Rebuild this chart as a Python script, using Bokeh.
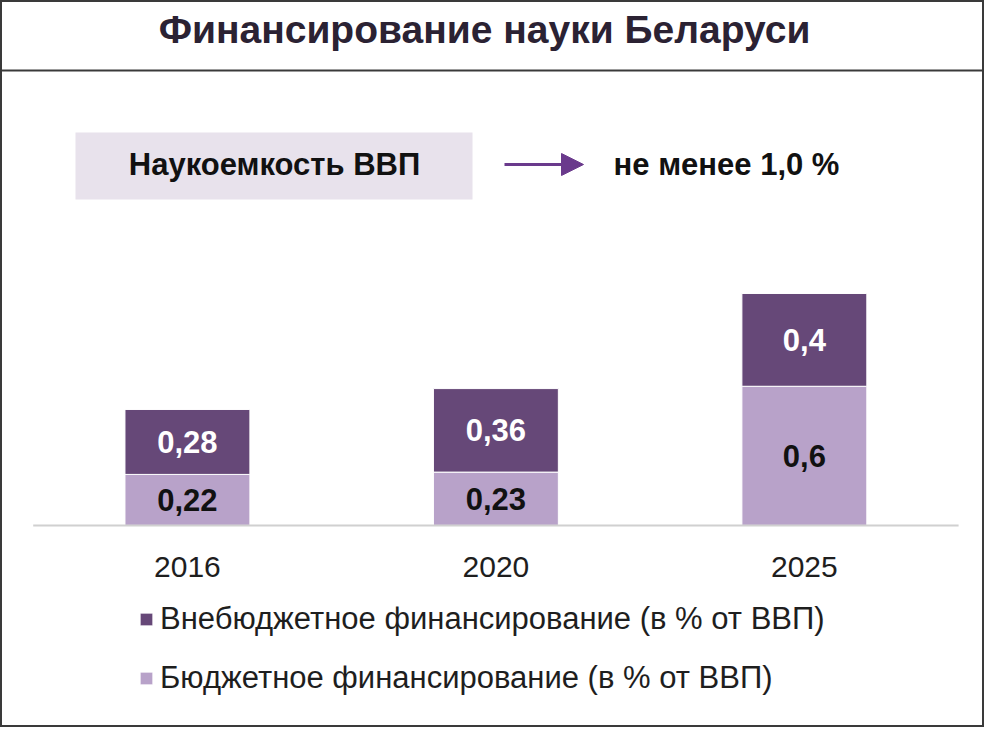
from bokeh.plotting import figure
from bokeh.models import (ColumnDataSource, Range1d, Label, BoxAnnotation, Span,
                          Arrow, NormalHead, Legend, LegendItem)
from bokeh.core.properties import value
from bokeh.embed import file_html
from bokeh.resources import INLINE

# ---- data ----
years = ["2016", "2020", "2025"]
budget = [0.22, 0.23, 0.6]          # Бюджетное финансирование (в % от ВВП)
extra = [0.28, 0.36, 0.4]           # Внебюджетное финансирование (в % от ВВП)
series_names = ["Внебюджетное финансирование (в % от ВВП)",
                "Бюджетное финансирование (в % от ВВП)"]
title_text = "Финансирование науки Беларуси"
header_left = "Наукоемкость ВВП"
header_right = "не менее 1,0 %"

FONT = "Liberation Sans"
DARK = "#664878"
LIGHT = "#b8a2c9"

idx = list(range(len(years)))
fmt = lambda v: f"{v:g}".replace(".", ",")

src = ColumnDataSource(dict(
    x=idx, years=years, budget=budget, extra=extra,
    zero=[0] * len(years),
    b_mid=[b / 2 for b in budget],
    e_mid=[b + e / 2 for b, e in zip(budget, extra)],
    b_lab=[fmt(b) for b in budget],
    e_lab=[fmt(e) for e in extra],
))

W, H = 984, 727
p = figure(width=W, height=H, output_backend="svg", toolbar_location=None,
           x_range=Range1d(-0.606, 2.584), y_range=Range1d(-0.871, 2.263),
           x_axis_type=None, y_axis_type=None, min_border=0)
p.grid.visible = False
p.background_fill_color = "white"
p.border_fill_color = "white"
p.outline_line_color = "#3a3a3a"
p.outline_line_width = 3

# bars
rs = p.vbar_stack(["budget", "extra"], x="x", width=0.405, source=src,
                  color=[LIGHT, DARK], line_color="white", line_width=1)

# baseline (category span)
p.segment(x0=[-0.5], x1=[len(years) - 0.5], y0=[0], y1=[0],
          line_color="#d0d0d0", line_width=2)

# value labels
p.text(x="x", y="b_mid", text="b_lab", source=src, text_align="center",
       text_baseline="middle", text_font=value(FONT), text_font_style="bold",
       text_font_size="31px", text_color="#111111")
p.text(x="x", y="e_mid", text="e_lab", source=src, text_align="center",
       text_baseline="middle", text_font=value(FONT), text_font_style="bold",
       text_font_size="31px", text_color="white")

# year labels
p.text(x="x", y="zero", text="years", source=src, y_offset=42,
       text_align="center", text_baseline="middle", text_font=value(FONT),
       text_font_size="30px", text_color="#1e1e1e")

# title and divider
p.add_layout(Label(x=484, y=698, x_units="screen", y_units="screen",
                   text=title_text, text_align="center", text_baseline="middle",
                   text_font=FONT, text_font_style="bold",
                   text_font_size="39px", text_color="#2b2233"))
p.add_layout(Span(location=657, location_units="screen", dimension="width",
                  line_color="#3a3a3a", line_width=2))

# header box
p.add_layout(BoxAnnotation(left=75, right=472, bottom=528, top=595,
                           left_units="screen", right_units="screen",
                           bottom_units="screen", top_units="screen",
                           fill_color="#e8e2ec", fill_alpha=1, line_alpha=0))
p.add_layout(Label(x=274, y=563, x_units="screen", y_units="screen",
                   text=header_left, text_align="center", text_baseline="middle",
                   text_font=FONT, text_font_style="bold",
                   text_font_size="31px", text_color="#111111"))
p.add_layout(Arrow(x_start=504, y_start=563, x_end=583, y_end=563,
                   start_units="screen", end_units="screen",
                   line_color="#6a3a8c", line_width=3,
                   end=NormalHead(size=22, fill_color="#6a3a8c",
                                  line_color="#6a3a8c")))
p.add_layout(Label(x=726, y=563, x_units="screen", y_units="screen",
                   text=header_right, text_align="center", text_baseline="middle",
                   text_font=FONT, text_font_style="bold",
                   text_font_size="31px", text_color="#111111"))

# legend
legend = Legend(items=[LegendItem(label=series_names[0], renderers=[rs[1]]),
                       LegendItem(label=series_names[1], renderers=[rs[0]])],
                location=(138, 31), orientation="vertical",
                glyph_width=16, glyph_height=16, label_height=36,
                label_standoff=6, spacing=23, padding=0, margin=0,
                border_line_alpha=0, background_fill_alpha=0,
                label_text_font=FONT, label_text_font_size="31px",
                label_text_color="#1e1e1e")
p.add_layout(legend, "center")

open("out.html", "w").write(file_html(p, INLINE))
